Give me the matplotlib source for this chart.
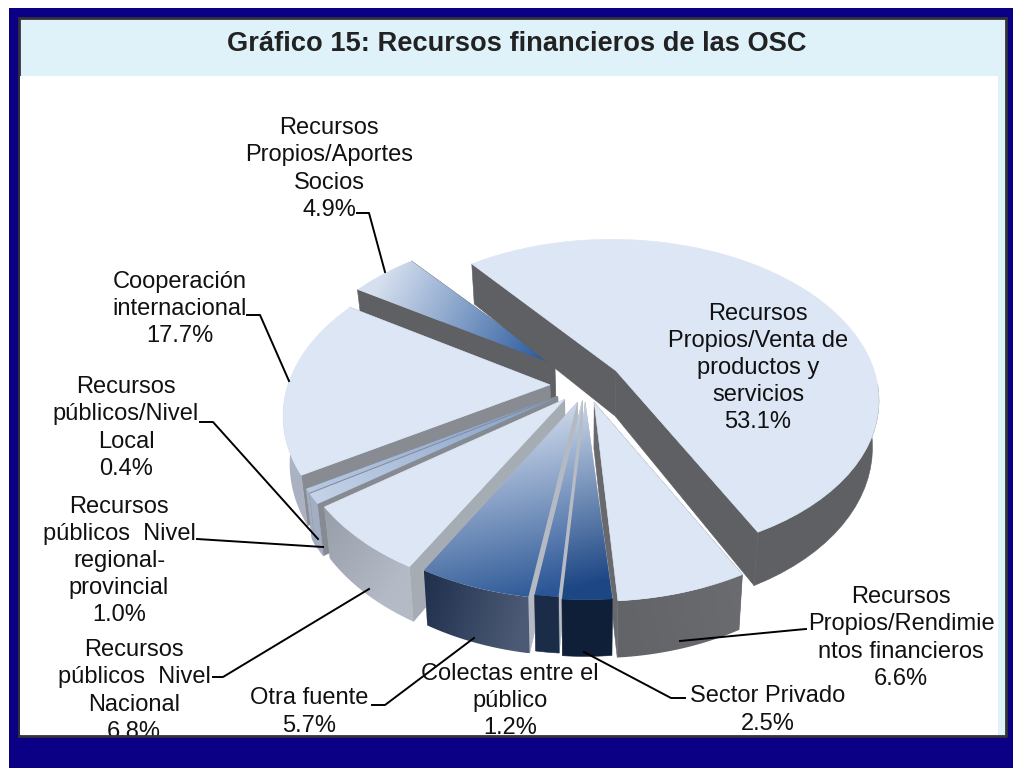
import numpy as np
import matplotlib
matplotlib.use('Agg')
import matplotlib.pyplot as plt
from matplotlib.patches import Polygon, Rectangle
from matplotlib.colors import to_rgb

plt.rcParams['font.family'] = ['Liberation Sans', 'DejaVu Sans']

# datos del grafico, en el orden en que giran las porciones
labels = ['Recursos\nPropios/Venta de\nproductos y\nservicios',
          'Recursos\nPropios/Rendimie\nntos financieros',
          'Sector Privado',
          'Colectas entre el\npúblico',
          'Otra fuente',
          'Recursos\npúblicos  Nivel\nNacional',
          'Recursos\npúblicos  Nivel\nregional-\nprovincial',
          'Recursos\npúblicos/Nivel\nLocal',
          'Cooperación\ninternacional',
          'Recursos\nPropios/Aportes\nSocios']
values = [53.1, 6.6, 2.5, 1.2, 5.7, 6.8, 1.0, 0.4, 17.7, 4.9]
title = 'Gráfico 15: Recursos financieros de las OSC'

# estilo y posiciones
explode = [0.15, 0.12, 0.10, 0.09, 0.10, 0.11, 0.12, 0.12, 0.13, 0.15]
nudge = [(0, -2), (1, -2), (1, 0), (1, 0), (2, 1), (0, 0), (0, 0), (0, 0), (0, -1), (0, -6)]
twist = [2.0, 1.0, 0, 0, 0, 0, 0, 0, 0, 0]
label_xy = [(758, 368), (901, 638), (768, 710), (510, 701), (309, 712),
            (134, 691), (119, 561), (126, 428), (180, 309), (329, 169)]
leaders = [None,
           [(806, 629), (795, 630), (680, 641)],
           [(685, 698), (671, 698), (584, 652)],
           None,
           [(372, 705), (385, 705), (474, 638)],
           [(213, 677), (223, 677), (369, 589)],
           [(197, 539), (323, 547)],
           [(200, 422), (213, 422), (318, 539)],
           [(247, 315), (260, 315), (289, 381)],
           [(357, 213), (369, 213), (385, 272)]]
# cara superior: color en el vertice, color hacia el borde
top_col = [('#dde6f4', '#dde6f4'), ('#dde6f4', '#dde6f4'), ('#c9d6ea', '#1c4684'),
           ('#c9d6ea', '#2a5596'), ('#cdd8ea', '#2f5a98'), ('#dde6f4', '#dde6f4'),
           ('#7f9cc8', '#c5d3e8'), ('#7f9cc8', '#b8c9e2'), ('#dde6f4', '#dde6f4'),
           ('#1f5299', '#d6e0ef')]
rim_col = [('#5e6064', '#5e6064'), ('#6a6c6f', '#626467'), ('#0f1f38', '#0f1f38'),
           ('#1b2c49', '#1b2c49'), ('#4c5a75', '#1f2f4c'), ('#b4bac6', '#969ea9'),
           ('#a3aec2', '#a3aec2'), ('#a3aec2', '#a3aec2'), ('#aab2c2', '#c4cad6'),
           ('#5e6064', '#5e6064')]
cut_col = ['#5e6064', '#68696c', '#b7bcc4', '#b7bcc4', '#b5bac2', '#a6acb3',
           '#868b92', '#868b92', '#888c92', '#5e6064']
draw_order = [9, 8, 7, 6, 5, 0, 1, 4, 3, 2]
start = 320.0
cx, cy, rx, ry, persp, depth = 584, 386, 262, 158, 0.17, 46


def project(u, v, drop=0.0):
    s = 1 / (1 - persp * v)
    x = cx + rx * u * s * (1 - 0.022 * drop)
    y = cy + ry * v * s + depth * s * drop
    return np.column_stack([x, y])


def ramp(ax, pts, c0, c1, p0, p1, z):
    # poligono relleno con degradado lineal de p0 a p1
    pts = np.asarray(pts)
    x0, y0 = pts.min(axis=0)
    x1, y1 = pts.max(axis=0)
    nx = max(int(x1 - x0) + 2, 2)
    ny = max(int(y1 - y0) + 2, 2)
    xx, yy = np.meshgrid(np.linspace(x0, x1, nx), np.linspace(y0, y1, ny))
    d = np.array(p1) - np.array(p0)
    t = ((xx - p0[0]) * d[0] + (yy - p0[1]) * d[1]) / max((d ** 2).sum(), 1)
    t = np.clip(t, 0, 1)[..., None]
    img = np.array(to_rgb(c0)) * (1 - t) + np.array(to_rgb(c1)) * t
    flat = c0 == c1
    poly = Polygon(pts, closed=True, fc=c1 if flat else 'none', ec=c1 if flat else 'none',
                   lw=0.4, zorder=z)
    ax.add_patch(poly)
    if not flat:
        im = ax.imshow(img, extent=(x0, x1, y1, y0), origin='upper', aspect='auto',
                       interpolation='bilinear', zorder=z)
        im.set_clip_path(poly)


fig = plt.figure(figsize=(10.13, 7.68), dpi=100, facecolor='white')
ax = fig.add_axes([0, 0, 1, 1])

# marco
ax.add_patch(Rectangle((9, 8), 1004, 760, fc='#0b0085', ec='none', zorder=0))
ax.add_patch(Rectangle((18.5, 17.5), 987, 719, fc='#dff2fa', ec='#333338', lw=2, zorder=1))
ax.add_patch(Rectangle((20, 76), 978, 659, fc='white', ec='none', zorder=1))

# porciones
ends = start + np.cumsum(values) * 360 / sum(values)
starts = ends - np.array(values) * 360 / sum(values)
z = 5
for i in draw_order:
    th = np.radians(np.linspace(starts[i], ends[i], 60) + twist[i])
    mid = np.radians((starts[i] + ends[i]) / 2)
    ou = explode[i] * np.sin(mid)
    ov = -explode[i] * np.cos(mid)
    u = ou + np.sin(th)
    v = ov - np.cos(th)
    rim_t = project(u, v) + nudge[i]
    rim_b = project(u, v, 1) + nudge[i]
    ap_t = project(np.array([ou]), np.array([ov])) + nudge[i]
    ap_b = project(np.array([ou]), np.array([ov]), 1) + nudge[i]
    # caras de corte
    for k in (0, -1):
        quad = [ap_t[0], rim_t[k], rim_b[k], ap_b[0]]
        ramp(ax, quad, cut_col[i], cut_col[i], ap_t[0], rim_t[k], z)
        z += 1
    # pared exterior, solo la parte que da al frente
    front = v > -0.05
    if front.any():
        wall = np.vstack([rim_t[front], rim_b[front][::-1]])
        ramp(ax, wall, rim_col[i][0], rim_col[i][1], rim_t[front][0], rim_t[front][-1], z)
        z += 1
    # cara superior
    face = np.vstack([ap_t, rim_t])
    target = rim_t[len(rim_t) // 2]
    if i in (2, 3, 4):
        target = ap_t[0] + (40, 175)
    ramp(ax, face, top_col[i][0], top_col[i][1], ap_t[0], target, z)
    z += 1

# lineas guia y etiquetas
for i in range(len(values)):
    if leaders[i] is not None:
        xs, ys = zip(*leaders[i])
        ax.plot(xs, ys, color='black', lw=1.4, zorder=200)
    ax.text(label_xy[i][0], label_xy[i][1], labels[i] + '\n%.1f%%' % values[i], ha='center',
            va='center', fontsize=17, linespacing=1.3, color='#111111', zorder=210)

# la ultima etiqueta queda cortada por el borde del panel
ax.add_patch(Rectangle((9, 737), 1004, 31, fc='#0b0085', ec='none', zorder=220))
ax.plot([19, 1005], [736, 736], color='#333338', lw=2, zorder=221)

ax.text(517, 44, title, ha='center', va='center', fontsize=19.6, fontweight='bold',
        color='#222222', zorder=210)

ax.set_xlim(0, 1013)
ax.set_ylim(768, 0)
ax.axis('off')
fig.savefig('out.png', dpi=100)
